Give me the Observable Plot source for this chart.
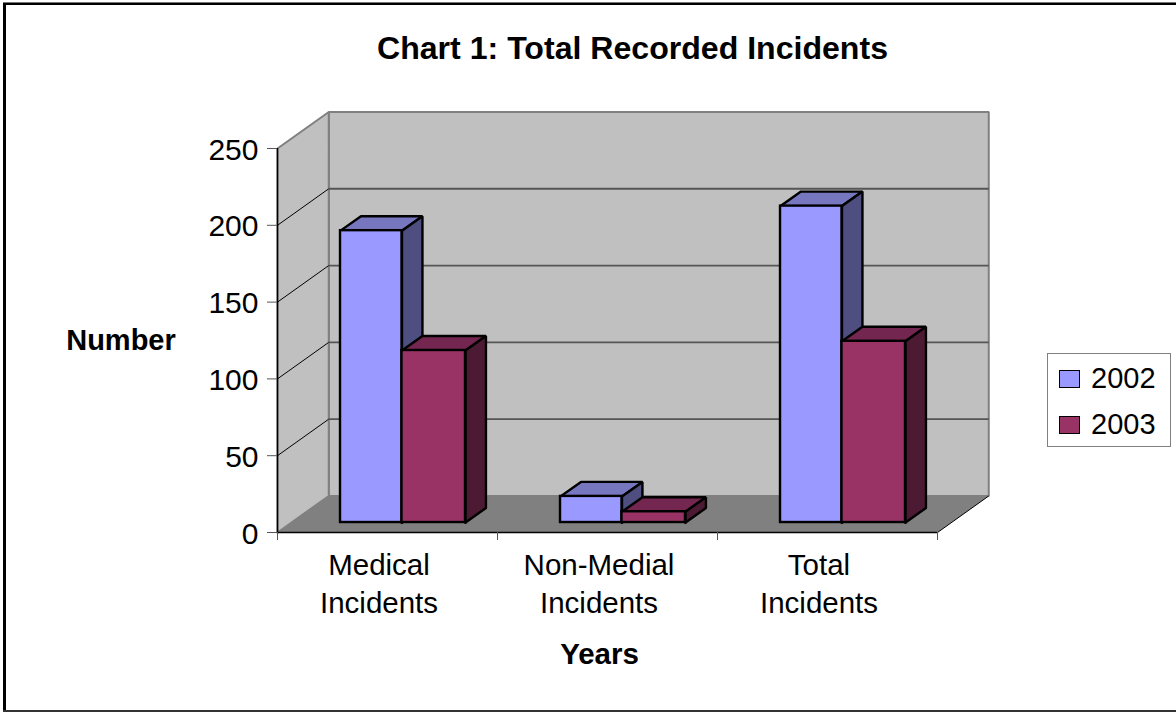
<!DOCTYPE html>
<html>
<head>
<meta charset="utf-8">
<script src="https://cdn.jsdelivr.net/npm/d3@7"></script>
<script src="https://cdn.jsdelivr.net/npm/@observablehq/plot@0.6"></script>
<style>
  html, body { margin: 0; padding: 0; background: #fff; overflow: hidden; }
  #page { position: relative; width: 1176px; height: 713px; font-family: "Liberation Sans", Arial, sans-serif; color: #000; }
  #page svg { position: absolute; left: 0; top: 0; }
  .edge { position: absolute; }
  .heading { position: absolute; font-weight: bold; white-space: nowrap; transform: translateX(-50%); line-height: 1; }
  #legend { position: absolute; left: 1047px; top: 353px; width: 122px; height: 92px; border: 1.5px solid #808080; background: #fff; }
  #legend .swatch { position: absolute; left: 10.5px; width: 19px; height: 16px; border: 1.8px solid #000; }
  #legend .name { position: absolute; left: 43px; font-size: 29px; line-height: 1; }
</style>
</head>
<body>
<div id="page">
  <div class="edge" style="left:3px;top:2px;width:1173px;height:1px;background:#777"></div>
  <div class="edge" style="left:3px;top:3px;width:1173px;height:2px;background:#000"></div>
  <div class="edge" style="left:3px;top:3px;width:3px;height:708px;background:#000"></div>
  <div class="edge" style="left:3px;top:710px;width:1173px;height:2px;background:#333"></div>
  <div class="heading" style="left:632.5px;top:32px;font-size:32.1px">Chart 1: Total Recorded Incidents</div>
  <div class="heading" style="left:121px;top:326px;font-size:29px">Number</div>
  <div class="heading" style="left:599.5px;top:639px;font-size:29.5px">Years</div>
</div>
<script>
// Categories and yearly counts
const categories = ["Medical\nIncidents", "Non-Medial\nIncidents", "Total\nIncidents"];
const years = ["2002", "2003"];
const counts2002 = [190, 17, 206];
const counts2003 = [112, 7, 118];
const yTicks = [0, 50, 100, 150, 200, 250];
const slotTicks = [0, 1, 2, 3];

const colors = {
  "2002": {front: "#9999ff", top: "#7777c0", side: "#4e4e80"},
  "2003": {front: "#993366", top: "#732650", side: "#4d1a33"}
};

// Oblique projection, in scale units: x is category slots, y is counts
const wallDepth = {x: 0.233, y: 23.8};
const barDepth = {x: 0.093, y: 9.44};
const barBase = 6.5;
const barEdges = {"2002": [0.2864, 0.5659], "2003": [0.5659, 0.8545]};

const polygon = (points, options) =>
  Plot.line([...points, points[0]].map(([x, y]) => ({x, y})), {
    x: "x", y: "y", strokeLinejoin: "miter", strokeLinecap: "square", ...options
  });

function walls() {
  const top = 250, n = categories.length;
  const dx = wallDepth.x, dy = wallDepth.y;
  return [
    polygon([[dx, dy], [n + dx, dy], [n + dx, top + dy], [dx, top + dy]], {fill: "#c0c0c0", stroke: "#808080", strokeWidth: 2}),
    polygon([[0, 0], [dx, dy], [dx, top + dy], [0, top]], {fill: "#c0c0c0", stroke: "#808080", strokeWidth: 2}),
    polygon([[0, 0], [dx, dy], [n + dx, dy], [n, 0]], {fill: "#808080", stroke: "none"}),
    // Gridlines run along the side wall and across the back wall
    Plot.link(yTicks.slice(1, -1), {x1: 0, y1: d => d, x2: dx, y2: d => d + dy, stroke: "#000", strokeWidth: 1}),
    Plot.link(yTicks.slice(1, -1), {x1: dx, y1: d => d + dy, x2: n + dx, y2: d => d + dy, stroke: "#555", strokeWidth: 1.8}),
    Plot.link([0], {x1: n, y1: 0, x2: n + dx, y2: dy, stroke: "#000", strokeWidth: 1})
  ];
}

function bar(slot, year, value) {
  const [a, b] = barEdges[year].map(e => slot + e);
  const y0 = barBase, y1 = barBase + value;
  const dx = barDepth.x, dy = barDepth.y;
  const c = colors[year];
  const edge = {stroke: "#000", strokeWidth: 2.4};
  return [
    polygon([[a, y1], [a + dx, y1 + dy], [b + dx, y1 + dy], [b, y1]], {fill: c.top, ...edge}),
    polygon([[b, y0], [b + dx, y0 + dy], [b + dx, y1 + dy], [b, y1]], {fill: c.side, ...edge}),
    Plot.rect([value], {x1: a, x2: b, y1: y0, y2: d => y0 + d, fill: c.front, ...edge})
  ];
}

const chart = Plot.plot({
  width: 1176,
  height: 713,
  marginLeft: 277,
  marginRight: 239,
  marginTop: 148,
  marginBottom: 181,
  style: {fontFamily: "Liberation Sans, Arial, sans-serif", fontSize: "29.5px", background: "transparent", color: "#000", overflow: "visible"},
  x: {domain: [0, categories.length]},
  y: {domain: [0, 250]},
  marks: [
    ...walls(),
    ...categories.flatMap((_, i) => [
      ...bar(i, "2002", counts2002[i]),
      ...bar(i, "2003", counts2003[i])
    ]),
    Plot.ruleY([0], {stroke: "#000", strokeWidth: 1.5}),
    Plot.ruleX([0], {stroke: "#000", strokeWidth: 1.5}),
    Plot.axisY({ticks: yTicks, tickSize: 10, tickFormat: () => "", label: null, stroke: "#555"}),
    Plot.text(yTicks, {
      y: d => d,
      frameAnchor: "left",
      textAnchor: "end",
      dx: -19,
      dy: 1.5,
      fontSize: 30,
      fill: "#000"
    }),
    Plot.axisX({ticks: slotTicks, tickSize: 8, tickFormat: () => "", label: null, stroke: "#555"}),
    Plot.text(categories, {
      x: (_, i) => i + 0.5,
      frameAnchor: "bottom",
      lineAnchor: "top",
      lineHeight: 1.29,
      dx: -8.5,
      dy: 15,
      fill: "#000"
    })
  ]
});

const page = document.getElementById("page");
page.appendChild(chart);

// Legend box on the right of the plot
const legend = document.createElement("div");
legend.id = "legend";
years.forEach((year, i) => {
  const row = 46 * i;
  legend.insertAdjacentHTML("beforeend",
    `<div class="swatch" style="top:${16 + row}px;background:${colors[year].front}"></div>` +
    `<div class="name" style="top:${10 + row}px">${year}</div>`);
});
page.appendChild(legend);
</script>
</body>
</html>
